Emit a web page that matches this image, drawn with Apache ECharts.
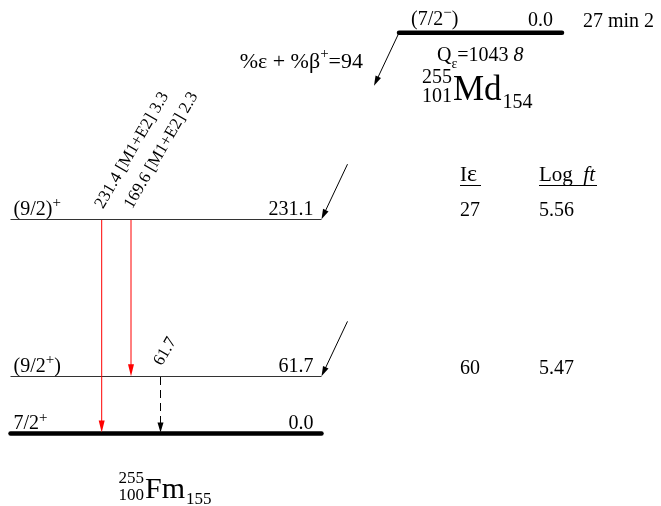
<!DOCTYPE html>
<html><head><meta charset="utf-8">
<script src="https://cdn.jsdelivr.net/npm/echarts@6/dist/echarts.min.js"></script>
<style>html,body{margin:0;padding:0;background:#fff}#c{width:661px;height:506px}</style>
</head><body><div id="c"></div>
<script>
// ---------------- DATA ----------------
const levelEnergies = [0.0, 61.7, 231.1];
const levelEnergyLabels = ['0.0', '61.7', '231.1'];
// spin label split as [before superscript, superscript, after superscript]
const levelSpins = [['7/2', '+', ''], ['(9/2', '+', ')'], ['(9/2)', '+', '']];

const gammaEnergies = ['231.4', '169.6', '61.7'];
const gammaMults = ['[M1+E2]', '[M1+E2]', ''];
const gammaIntensities = ['3.3', '2.3', ''];
const gammaFrom = [231.1, 231.1, 61.7];
const gammaTo = [0.0, 61.7, 0.0];
const gammaUncertain = [false, false, true];

const feedLevels = [231.1, 61.7];
const feedIe = ['27', '60'];
const feedLogft = ['5.56', '5.47'];

const parentSpin = ['(7/2', '−', ')'];
const parentEnergyLabel = '0.0';
const parentHalfLife = '27 min 2';
const parentQ = ['1043', '8'];
const parentBranching = '94';
const parentNuclide = ['255', '101', 'Md', '154'];
const daughterNuclide = ['255', '100', 'Fm', '155'];

// ---------------- LAYOUT ----------------
const FONT = '"Liberation Serif", "Times New Roman", serif';
const L = {
  levelX0: 10.5, levelX1: 321.5,
  gammaX0: 101.7, gammaDX: 29.3,
  parentX0: 399, parentX1: 562, parentYVal: 432,
  ieX: 460, logftX: 539, headerY: 175
};
const measureCtx = document.createElement('canvas').getContext('2d');
function textWidth(t, size) { measureCtx.font = size + 'px ' + FONT; return measureCtx.measureText(t).width; }

function arrowHead(tx, ty, dx, dy, len, hw, color) {
  const n = Math.hypot(dx, dy); const ux = dx / n, uy = dy / n;
  const bx = tx - ux * len, by = ty - uy * len;
  return { type: 'polygon', shape: { points: [[tx, ty], [bx - uy * hw, by + ux * hw], [bx + uy * hw, by - ux * hw]] },
    style: { fill: color, stroke: null } };
}
function txt(x, y, text, size, opts) {
  opts = opts || {};
  return { type: 'text', x: x, y: y, rotation: opts.rot || 0,
    style: Object.assign({ text: text, fill: '#000', fontFamily: FONT, fontSize: size,
      align: opts.align || 'left', verticalAlign: opts.va || 'middle', rich: opts.rich }, opts.style || {}) };
}
function supRich(size) {
  return {
    b: { fontFamily: FONT, fontSize: size, lineHeight: size + 4, verticalAlign: 'bottom', fill: '#000' },
    s: { fontFamily: FONT, fontSize: Math.round(size * 0.75), lineHeight: 12, verticalAlign: 'top', fill: '#000' }
  };
}

// levels
function renderLevel(params, api) {
  const i = params.dataIndex;
  const e = api.value(1);
  const p0 = api.coord([L.levelX0, e]);
  const p1 = api.coord([L.levelX1, e]);
  const ground = e === 0;
  const y = ground ? p0[1] : Math.round(p0[1]) + 0.5;
  const sp = levelSpins[i];
  return { type: 'group', children: [
    { type: 'line', shape: { x1: p0[0], y1: y, x2: p1[0], y2: y },
      style: { stroke: ground ? '#000' : '#333', lineWidth: ground ? 4.5 : 1, lineCap: ground ? 'round' : 'butt' } },
    txt(p0[0] + 3, y - 11.5, '{b|' + sp[0] + '}{s|' + sp[1] + '}{b|' + sp[2] + '}', 20, { rich: supRich(20) }),
    txt(p1[0] - 8, y - 9.5, levelEnergyLabels[i], 20, { align: 'right' })
  ] };
}

// gammas
function renderGamma(params, api) {
  const i = params.dataIndex;
  const gx = L.gammaX0 + i * L.gammaDX;
  const pF = api.coord([gx, gammaFrom[i]]);
  const pT = api.coord([gx, gammaTo[i]]);
  const unc = gammaUncertain[i];
  const color = unc ? '#000000' : '#ff0000';
  const headLen = unc ? 10 : 12;
  const ty = pT[1] - (gammaTo[i] === 0 ? 1 : 0);
  const label = [gammaEnergies[i], gammaMults[i], gammaIntensities[i]].filter(s => s).join(' ');
  const sx = unc ? Math.floor(gx) + 0.5 : gx;
  return { type: 'group', children: [
    { type: 'line', shape: { x1: sx, y1: Math.round(pF[1]) + 1, x2: sx, y2: ty - headLen + 1 },
      style: { stroke: color, lineWidth: 1, lineDash: unc ? [8, 5] : 'solid' } },
    arrowHead(sx, ty, 0, 1, headLen, 3, color),
    txt(gx - 2.5, pF[1] - 12, label, 17, { rot: Math.PI / 3 })
  ] };
}

// feeding arrows + table values
function renderFeed(params, api) {
  const i = params.dataIndex;
  const e = api.value(1);
  const p1 = api.coord([L.levelX1, e]);
  const tx = p1[0], ty = p1[1];
  const sx = tx + 26, sy = ty - 55;
  const pI = api.coord([L.ieX, e]);
  const pL = api.coord([L.logftX, e]);
  return { type: 'group', children: [
    { type: 'line', shape: { x1: sx, y1: sy, x2: tx + 26 * 9 / 61, y2: ty - 55 * 9 / 61 }, style: { stroke: '#000', lineWidth: 1 } },
    arrowHead(tx, ty, -26, 55, 10, 3, '#000'),
    txt(pI[0], ty - 8, feedIe[i], 20),
    txt(pL[0], ty - 8, feedLogft[i], 20)
  ] };
}

// parent
function renderParent(params, api) {
  const p0 = api.coord([L.parentX0, L.parentYVal]);
  const p1 = api.coord([L.parentX1, L.parentYVal]);
  const y = p0[1];
  const ax = p0[0], ay = y;
  const tipX = ax - 25, tipY = ay + 53;
  return { type: 'group', children: [
    { type: 'line', shape: { x1: p0[0], y1: y, x2: p1[0], y2: y }, style: { stroke: '#000', lineWidth: 4.5, lineCap: 'round' } },
    { type: 'line', shape: { x1: ax, y1: ay, x2: tipX + 25 * 9 / 58.6, y2: tipY - 53 * 9 / 58.6 }, style: { stroke: '#000', lineWidth: 1 } },
    arrowHead(tipX, tipY, -25, 53, 10, 3, '#000'),
    txt(p0[0] + 12, y - 15, '{b|' + parentSpin[0] + '}{s|' + parentSpin[1] + '}{b|' + parentSpin[2] + '}', 20, { rich: supRich(20) }),
    txt(p1[0] - 9, y - 12, parentEnergyLabel, 20, { align: 'right' }),
    txt(p1[0] + 21, y - 11, parentHalfLife, 20),
    txt(p0[0] + 38, y + 26, '{a|Q}{e|ε}{a|=' + parentQ[0] + ' }{i|' + parentQ[1] + '}', 20, { rich: {
      a: { fontFamily: FONT, fontSize: 20, lineHeight: 26, verticalAlign: 'top', fill: '#000' },
      e: { fontFamily: FONT, fontSize: 14, lineHeight: 26, verticalAlign: 'bottom', fill: '#000' },
      i: { fontFamily: FONT, fontSize: 20, lineHeight: 26, verticalAlign: 'top', fontStyle: 'italic', fill: '#000' } } }),
    txt(ax - 36, y + 27, '{a|%ε + %β}{s|+}{a|=' + parentBranching + '}', 22, { align: 'right', rich: {
      a: { fontFamily: FONT, fontSize: 22, lineHeight: 26, verticalAlign: 'bottom', fill: '#000' },
      s: { fontFamily: FONT, fontSize: 15, lineHeight: 12, verticalAlign: 'top', fill: '#000' } } })
  ] };
}

function nuclide(x, yc, parts, d, elSize, scSize) {
  const w = textWidth(parts[2], elSize);
  return [
    txt(x, yc + d[0], parts[0], scSize, { align: 'right' }),
    txt(x, yc + d[1], parts[1], scSize, { align: 'right' }),
    txt(x + 1, yc, parts[2], elSize),
    txt(x + 2 + w, yc + d[2], parts[3], scSize)
  ];
}
function renderNuclides(params, api) {
  return { type: 'group', children: nuclide(452, 91, parentNuclide, [-13, 6, 12], 35, 20)
    .concat(nuclide(144, 490, daughterNuclide, [-11, 6, 10], 30, 17))
    .concat([
      txt(L.ieX, L.headerY, '{a|I}{e|ε}', 21, { rich: { a: { fontFamily: FONT, fontSize: 21, fill: '#000' }, e: { fontFamily: FONT, fontSize: 24, fill: '#000' } } }),
      txt(L.logftX, L.headerY, '{a|Log  }{i|ft}', 21, { rich: { a: { fontFamily: FONT, fontSize: 21, fill: '#000' }, i: { fontFamily: FONT, fontSize: 21, fontStyle: 'italic', fill: '#000' } } }),
      { type: 'line', shape: { x1: L.ieX, y1: L.headerY + 10.5, x2: L.ieX + 21, y2: L.headerY + 10.5 }, style: { stroke: '#000', lineWidth: 1 } },
      { type: 'line', shape: { x1: L.logftX, y1: L.headerY + 10.5, x2: L.logftX + 58, y2: L.headerY + 10.5 }, style: { stroke: '#000', lineWidth: 1 } }
    ]) };
}

const chart = echarts.init(document.getElementById('c'), null, { renderer: 'canvas' });
chart.setOption({
  animation: false,
  backgroundColor: '#fff',
  grid: { left: 0, right: 0, top: 0, bottom: 0 },
  xAxis: { type: 'value', min: 0, max: 661, show: false },
  yAxis: { type: 'value', min: -78, max: 467.3, show: false },
  series: [
    { type: 'custom', clip: false, renderItem: renderLevel, encode: { x: 0, y: 1 }, data: levelEnergies.map((e, i) => [i, e]) },
    { type: 'custom', clip: false, renderItem: renderGamma, encode: { x: 0, y: 1 }, data: gammaFrom.map((e, i) => [i, e]) },
    { type: 'custom', clip: false, renderItem: renderFeed, encode: { x: 0, y: 1 }, data: feedLevels.map((e, i) => [i, e]) },
    { type: 'custom', clip: false, renderItem: renderParent, encode: { x: 0, y: 1 }, data: [[0, 0]] },
    { type: 'custom', clip: false, renderItem: renderNuclides, encode: { x: 0, y: 1 }, data: [[0, 0]] }
  ]
});
</script></body></html>
